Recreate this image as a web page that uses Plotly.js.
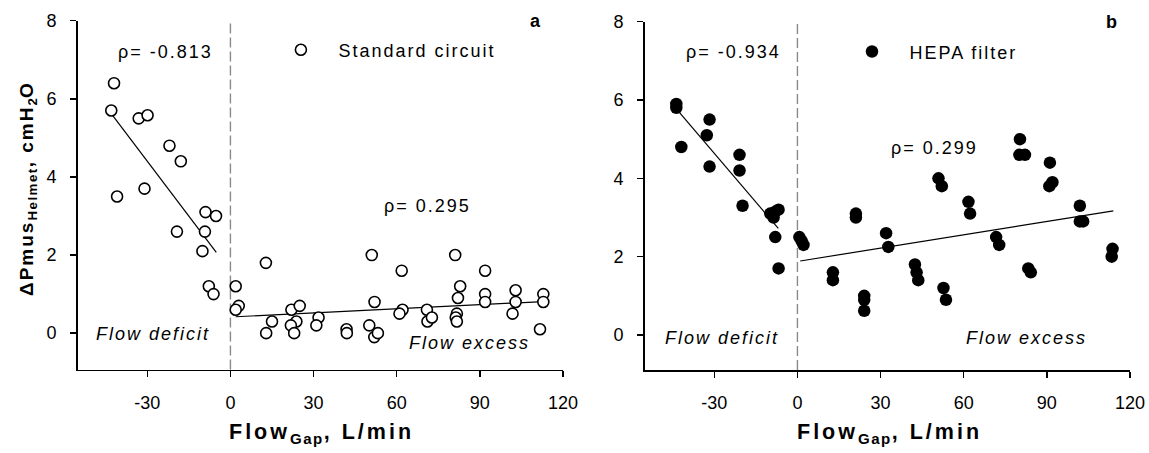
<!DOCTYPE html>
<html>
<head>
<meta charset="utf-8">
<script src="https://cdn.plot.ly/plotly-3.0.1.min.js"></script>
<style>
  html, body { margin: 0; padding: 0; background: #fff; }
  #chart { width: 1149px; height: 453px; }
</style>
</head>
<body>
<div id="chart"></div>
<script>
// ---- Panel a: Standard circuit ----
const stdX = [-42.0, -43.0, -33.1, -29.9, -22.0, -17.9, -40.9, -31.0, -9.0, -5.2, -19.3, -9.2, -10.1, -7.8, -6.1,
  1.9, 3.0, 1.9, 12.8, 15.0, 12.9, 22.0, 25.0, 23.8, 21.8, 23.0, 31.8, 31.0, 41.9, 42.0,
  51.0, 52.0, 50.1, 51.9, 53.2, 61.8, 62.1, 61.0, 70.9, 71.1, 72.7,
  81.1, 82.9, 82.1, 81.7, 81.3, 81.7, 91.9, 91.9, 91.9, 102.9, 102.9, 101.8, 112.9, 112.9, 111.7];
const stdY = [6.40, 5.70, 5.50, 5.58, 4.80, 4.40, 3.50, 3.70, 3.10, 3.00, 2.60, 2.60, 2.10, 1.20, 1.00,
  1.20, 0.70, 0.60, 1.80, 0.30, 0.00, 0.60, 0.70, 0.30, 0.20, 0.00, 0.40, 0.20, 0.10, 0.00,
  2.00, 0.80, 0.20, -0.10, 0.00, 1.60, 0.60, 0.50, 0.60, 0.30, 0.40,
  2.00, 1.20, 0.90, 0.50, 0.40, 0.30, 1.60, 1.00, 0.80, 1.10, 0.80, 0.50, 1.00, 0.80, 0.10];
const stdFitDefX = [-43.0, -5.1];
const stdFitDefY = [5.62, 2.07];
const stdFitExcX = [1.9, 112.9];
const stdFitExcY = [0.42, 0.81];

// ---- Panel b: HEPA filter ----
const hepaX = [-43.7, -43.7, -41.9, -31.7, -32.7, -31.7, -20.9, -20.9, -19.8, -9.8, -6.8, -8.6, -8.0, -8.0, -6.8,
  0.7, 1.5, 2.2, 12.8, 12.8, 21.1, 21.1, 24.1, 24.1, 24.1, 32.0, 32.8, 42.4, 43.0, 43.6,
  50.9, 52.1, 52.7, 53.6, 61.7, 62.3, 71.7, 72.8, 80.3, 80.1, 82.1, 83.3, 84.2,
  91.1, 92.0, 90.9, 101.9, 101.9, 103.1, 113.7, 113.4];
const hepaY = [5.90, 5.80, 4.80, 5.50, 5.10, 4.30, 4.60, 4.20, 3.30, 3.10, 3.20, 3.00, 3.15, 2.50, 1.70,
  2.50, 2.40, 2.30, 1.60, 1.40, 3.10, 3.00, 1.00, 0.90, 0.62, 2.60, 2.25, 1.80, 1.60, 1.40,
  4.00, 3.80, 1.20, 0.90, 3.40, 3.10, 2.50, 2.30, 5.00, 4.60, 4.60, 1.70, 1.60,
  4.40, 3.90, 3.80, 3.30, 2.90, 2.90, 2.20, 2.00];
const hepaFitDefX = [-43.3, -6.9];
const hepaFitDefY = [5.74, 2.72];
const hepaFitExcX = [1.0, 114.0];
const hepaFitExcY = [1.89, 3.17];

// ---- Axis ticks ----
const xTickVals = [-30, 0, 30, 60, 90, 120];
const xTickText = ['-30', '0', '30', '60', '90', '120'];
const yTickVals = [0, 2, 4, 6, 8];
const yTickText = ['0', '2', '4', '6', '8'];

// ---- Text labels ----
const seriesNames = ['Standard circuit', 'HEPA filter'];
const rhoA = ['ρ= -0.813', 'ρ= 0.295'];
const rhoB = ['ρ= -0.934', 'ρ= 0.299'];
const regionLabels = ['Flow deficit', 'Flow excess'];
const panelLabels = ['a', 'b'];

const FONT = 'Liberation Sans, Arial, Helvetica, sans-serif';
const sp = (t, s) => `<span style="letter-spacing:${s}px">${t}</span>`;

function fitLine(x, y, xa, ya) {
  return { x: x, y: y, xaxis: xa, yaxis: ya, mode: 'lines', type: 'scatter',
    line: { color: '#000', width: 1.2 }, showlegend: false, hoverinfo: 'skip' };
}

const traces = [
  fitLine(stdFitDefX, stdFitDefY, 'x', 'y'),
  fitLine(stdFitExcX, stdFitExcY, 'x', 'y'),
  fitLine(hepaFitDefX, hepaFitDefY, 'x2', 'y2'),
  fitLine(hepaFitExcX, hepaFitExcY, 'x2', 'y2'),
  { x: stdX, y: stdY, xaxis: 'x', yaxis: 'y', type: 'scatter', mode: 'markers', name: sp(seriesNames[0], 2),
    legend: 'legend',
    marker: { symbol: 'circle', size: 11, color: '#fff', line: { color: '#000', width: 1.6 } } },
  { x: hepaX, y: hepaY, xaxis: 'x2', yaxis: 'y2', type: 'scatter', mode: 'markers', name: sp(seriesNames[1], 2),
    legend: 'legend2',
    marker: { symbol: 'circle', size: 12.5, color: '#000', line: { color: '#000', width: 0 } } }
];

function xAxis(domain, anchor) {
  return { domain: domain, anchor: anchor, range: [-55, 120], tickmode: 'array',
    tickvals: xTickVals, ticktext: xTickText, showline: true, linecolor: '#000', linewidth: 1.8,
    ticks: 'outside', ticklen: 6, tickwidth: 1.5, tickcolor: '#000', showgrid: false, zeroline: false,
    tickfont: { family: FONT, size: 18, color: '#000' }, ticklabelstandoff: 10, fixedrange: true };
}
function yAxis(domain, anchor, lo) {
  return { domain: domain, anchor: anchor, range: [lo, 8], tickmode: 'array',
    tickvals: yTickVals, ticktext: yTickText, showline: true, linecolor: '#000', linewidth: 1.8,
    ticks: 'outside', ticklen: 6, tickwidth: 1.5, tickcolor: '#000', showgrid: false, zeroline: false,
    tickfont: { family: FONT, size: 18, color: '#000' }, ticklabelstandoff: 10, fixedrange: true };
}

function ann(text, x, y, xref, yref, opts) {
  return Object.assign({ text: text, x: x, y: y, xref: xref, yref: yref, showarrow: false,
    xanchor: 'center', yanchor: 'middle',
    font: { family: FONT, size: 18, color: '#000' } }, opts || {});
}

const xTitle = '<b>' + sp('Flow', 3) + '<sub>' + sp('Gap', 1.5) + '</sub>' + sp(', L/min', 3) + '</b>';
const yTitle = '<b>' + sp('ΔPmus', 2) + '<sub>' + sp('Helmet', 1.5) + '</sub>' + sp(', cmH', 2) + '<sub>2</sub>' + 'O' + '</b>';

const annotations = [
  ann(sp(rhoA[0], 2), -5.7, 7.21, 'x', 'y', { xanchor: 'right' }),
  ann(sp(rhoA[1], 2), 54.6, 3.25, 'x', 'y', { xanchor: 'left' }),
  ann('<i>' + sp(regionLabels[0], 2) + '</i>', -28.1, -0.03, 'x', 'y'),
  ann('<i>' + sp(regionLabels[1], 2) + '</i>', 86.3, -0.24, 'x', 'y'),
  ann('<b>' + panelLabels[0] + '</b>', 109.9, 8.0, 'x', 'y'),
  ann(sp(rhoB[0], 2), -5.2, 7.22, 'x2', 'y2', { xanchor: 'right' }),
  ann(sp(rhoB[1], 2), 33.2, 4.77, 'x2', 'y2', { xanchor: 'left' }),
  ann('<i>' + sp(regionLabels[0], 2) + '</i>', -27.3, -0.08, 'x2', 'y2'),
  ann('<i>' + sp(regionLabels[1], 2) + '</i>', 82.7, -0.08, 'x2', 'y2'),
  ann('<b>' + panelLabels[1] + '</b>', 113.2, 8.0, 'x2', 'y2'),
  // axis titles
  ann(xTitle, 321.5 / 1149, 1 - 433 / 453, 'paper', 'paper', { font: { family: FONT, size: 21.5, color: '#000' } }),
  ann(xTitle, 889 / 1149, 1 - 433 / 453, 'paper', 'paper', { font: { family: FONT, size: 21.5, color: '#000' } }),
  ann(yTitle, 28 / 1149, 1 - 190 / 453, 'paper', 'paper', { textangle: -90, font: { family: FONT, size: 19, color: '#000' } })
];

const dash = { color: '#8a8a8a', width: 1.4, dash: '10px,4px' };
const shapes = [
  { type: 'line', xref: 'x', yref: 'y domain', x0: 0, x1: 0, y0: 0, y1: 1, line: dash, layer: 'below' },
  { type: 'line', xref: 'x2', yref: 'y2 domain', x0: 0, x1: 0, y0: 0, y1: 1, line: dash, layer: 'below' }
];

const legendBase = { xanchor: 'left', yanchor: 'middle', bgcolor: 'rgba(0,0,0,0)', borderwidth: 0,
  itemwidth: 65, font: { family: FONT, size: 18, color: '#000' }, itemclick: false, itemdoubleclick: false };

const layout = {
  width: 1149, height: 453,
  margin: { l: 0, r: 0, t: 0, b: 0 },
  paper_bgcolor: '#fff', plot_bgcolor: '#fff',
  font: { family: FONT, color: '#000' },
  xaxis: xAxis([78 / 1149, 563 / 1149], 'y'),
  yaxis: yAxis([1 - 369.5 / 453, 1 - 20.7 / 453], 'x', -0.93),
  xaxis2: xAxis([645 / 1149, 1130 / 1149], 'y2'),
  yaxis2: yAxis([1 - 370 / 453, 1 - 21.7 / 453], 'x2', -0.894),
  legend: Object.assign({}, legendBase, { x: 263.4 / 1149, y: 1 - 50 / 453 }),
  legend2: Object.assign({}, legendBase, { x: 834.5 / 1149, y: 1 - 51.8 / 453 }),
  annotations: annotations,
  shapes: shapes,
  hovermode: false
};

Plotly.newPlot('chart', traces, layout, { displayModeBar: false, staticPlot: true });
</script>
</body>
</html>
